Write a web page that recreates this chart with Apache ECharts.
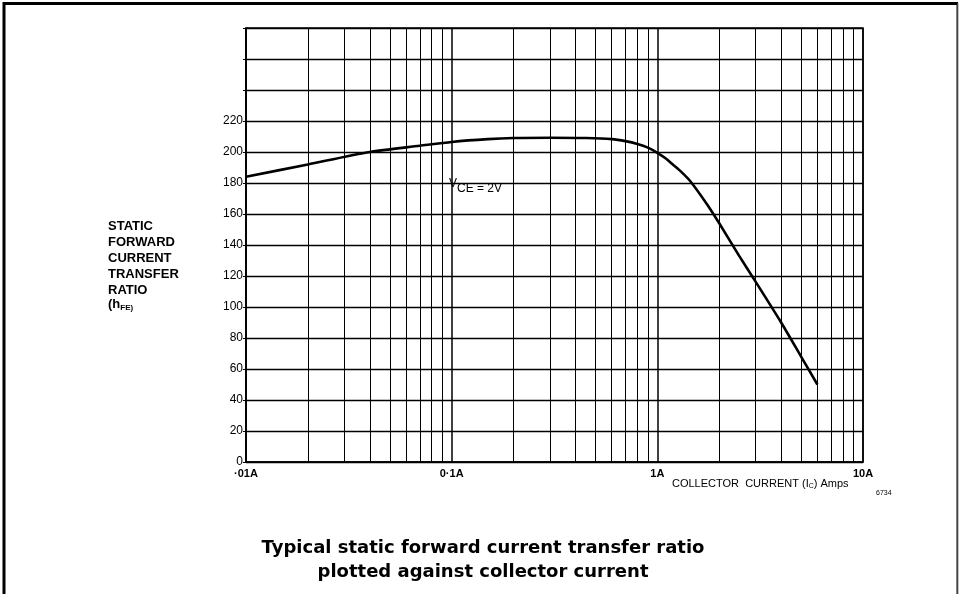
<!DOCTYPE html>
<html>
<head>
<meta charset="utf-8">
<script src="https://cdn.jsdelivr.net/npm/echarts@6/dist/echarts.min.js"></script>
<style>html,body{margin:0;padding:0;background:#fff}#c{width:960px;height:594px}</style>
</head>
<body>
<div id="c"></div>
<script>
// Collector current (A) and typical static forward current transfer ratio hFE at VCE = 2V
const currentA = [0.01, 0.02, 0.04, 0.07, 0.1, 0.15, 0.2, 0.3, 0.45, 0.6, 0.7, 0.8, 0.9, 1.0, 1.1, 1.2, 1.3, 1.45, 1.75, 2.0, 2.5, 2.95, 4.0, 5.0, 6.0];
const hFE = [184, 192, 200, 204, 206.5, 208.3, 209, 209.2, 209, 208.3, 207, 205.2, 202.8, 199.5, 195.8, 191.5, 187.5, 181, 166, 154, 133, 118, 90, 68, 50];
// x-axis decade tick labels
const xTickValues = [0.01, 0.1, 1, 10];
const xTickLabels = ['·01A', '0·1A', '1A', '10A'];
// minor vertical grid positions (2..9 within each decade)
const minorGrid = [0.02,0.03,0.04,0.05,0.06,0.07,0.08,0.09,0.2,0.3,0.4,0.5,0.6,0.7,0.8,0.9,2,3,4,5,6,7,8,9];
const yLabelMax = 220;

const chart = echarts.init(document.getElementById('c'), null, {renderer: 'canvas'});
const font = "'Liberation Sans', Arial, sans-serif";
const option = {
  backgroundColor: '#fff',
  animation: false,
  grid: {left: 246, right: 97, top: 28, bottom: 132, show: true, borderColor: '#000', borderWidth: 1.5, backgroundColor: 'transparent'},
  xAxis: {
    type: 'log', logBase: 10, min: 0.01, max: 10,
    axisLine: {show: true, lineStyle: {color: '#000', width: 1.5}},
    axisTick: {show: false},
    axisLabel: {
      color: '#000', fontFamily: font, fontWeight: 'bold', fontSize: 11, margin: 6,
      formatter: function (v) {
        for (let i = 0; i < xTickValues.length; i++) {
          if (Math.abs(Math.log10(v) - Math.log10(xTickValues[i])) < 1e-6) return xTickLabels[i];
        }
        return '';
      }
    },
    splitLine: {show: true, lineStyle: {color: '#000', width: 1.5}},
    minorTick: {show: false},
    minorSplitLine: {show: false}
  },
  yAxis: {
    type: 'value', min: 0, max: 280, interval: 20,
    axisLine: {show: true, lineStyle: {color: '#000', width: 1.5}},
    axisTick: {show: true, length: 3, lineStyle: {color: '#000'}},
    axisLabel: {
      color: '#000', fontFamily: font, fontSize: 12, margin: 3,
      formatter: function (v) { return v <= yLabelMax ? String(v) : ''; }
    },
    splitLine: {show: true, lineStyle: {color: '#000', width: 1.3}}
  },
  series: [
    {
      type: 'line', data: [], silent: true,
      markLine: {
        silent: true, symbol: 'none', animation: false,
        label: {show: false},
        lineStyle: {color: '#000', width: 1, type: 'solid'},
        emphasis: {disabled: true},
        data: minorGrid.map(v => ({xAxis: v}))
      }
    },
    {
      type: 'line', smooth: 0.25, showSymbol: false, silent: true,
      lineStyle: {color: '#000', width: 2.6},
      data: currentA.map((x, i) => [x, hFE[i]])
    }
  ],
  graphic: [
    {type: 'rect', shape: {x: 4, y: 3.5, width: 954, height: 600}, style: {fill: 'none', stroke: '#000', lineWidth: 3}, silent: true},
    {type: 'rect', shape: {x: 958, y: 0, width: 2, height: 594}, style: {fill: '#fff'}, silent: true},
    {type: 'rect', shape: {x: 957.5, y: 3, width: 1, height: 591}, style: {fill: '#888'}, silent: true},
    {type: 'text', left: 108, top: 218, style: {text: 'STATIC\nFORWARD\nCURRENT\nTRANSFER\nRATIO', font: "bold 13px " + font, fill: '#000', lineHeight: 16}},
    {type: 'text', left: 108, top: 298, style: {text: '(h{s|FE)}', rich: {s: {fontSize: 8, fontWeight: 'bold', fontFamily: font, padding: [7, 0, 0, 0]}}, font: "bold 13px " + font, fill: '#000'}},
    {type: 'text', left: 449, top: 178, style: {text: 'V', font: "12px " + font, fill: '#000'}},
    {type: 'text', left: 457, top: 183, style: {text: 'CE = 2V', font: "12px " + font, fill: '#000'}},
    {type: 'text', left: 672, top: 478, style: {text: 'COLLECTOR  CURRENT (I{s|C}) Amps', rich: {s: {fontSize: 7, fontFamily: font, padding: [5, 0, 0, 0]}}, font: "11px " + font, fill: '#000'}},
    {type: 'text', left: 876, top: 490, style: {text: '6734', font: "7px " + font, fill: '#000'}},
    {type: 'text', x: 483, y: 536, style: {text: 'Typical static forward current transfer ratio\nplotted against collector current', font: "bold 18px 'DejaVu Sans', sans-serif", fill: '#000', align: 'center', verticalAlign: 'top', lineHeight: 24}}
  ]
};
chart.setOption(option);
</script>
</body>
</html>
